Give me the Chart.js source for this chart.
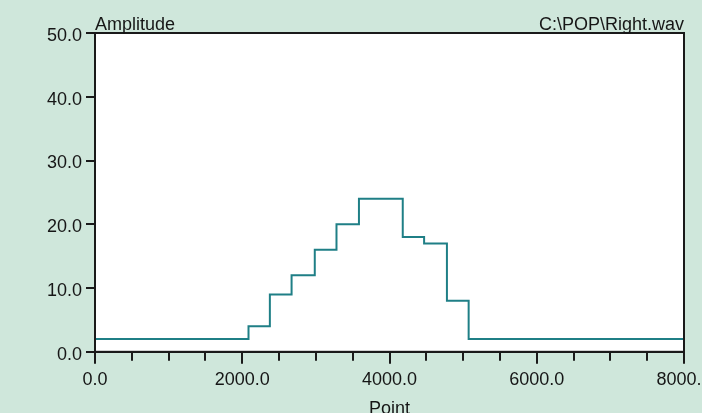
<!DOCTYPE html>
<html>
<head>
<meta charset="utf-8">
<script src="https://cdn.jsdelivr.net/npm/chart.js@4.4.1/dist/chart.umd.min.js"></script>
<style>
  html, body { margin: 0; padding: 0; background: #cfe7db; overflow: hidden; }
  #wrap { position: relative; width: 702px; height: 413px; overflow: hidden; background: #cfe7db; }
  #wrap canvas { position: absolute; left: 0; top: 0; }
</style>
</head>
<body>
<div id="wrap"><canvas id="chart" width="740" height="420"></canvas></div>
<script>
// Signal amplitude per sample point (step trace)
const stepPoints = [0, 2085, 2375, 2670, 2985, 3280, 3585, 4180, 4470, 4780, 5075, 8000];
const amplitudes = [2, 4, 9, 12, 16, 20, 24, 18, 17, 8, 2, 2];

const yTickValues = [0, 10, 20, 30, 40, 50];
const xLabelValues = [0, 2000, 4000, 6000, 8000];
const yAxisTitle = 'Amplitude';
const fileName = 'C:\\POP\\Right.wav';
const xAxisTitle = 'Point';

const FONT = { family: '"Liberation Sans", Arial, sans-serif', size: 18 };
const INK = '#161616';
const FRAME = '#1a1a1a';

// White plot panel with a dark frame, longer major ticks, and the two captions above it
const framePlugin = {
  id: 'frame',
  beforeDraw(chart) {
    const { ctx, chartArea: a } = chart;
    ctx.save();
    ctx.fillStyle = '#ffffff';
    ctx.fillRect(a.left, a.top, a.right - a.left, a.bottom - a.top);
    ctx.restore();
  },
  afterDraw(chart) {
    const { ctx, chartArea: a } = chart;
    const xs = chart.scales.x;
    ctx.save();
    ctx.strokeStyle = FRAME;
    ctx.lineWidth = 2;
    ctx.strokeRect(a.left, a.top, a.right - a.left, a.bottom - a.top);
    ctx.beginPath();
    xLabelValues.forEach(v => {
      const px = Math.round(xs.getPixelForValue(v));
      ctx.moveTo(px, a.bottom + 8);
      ctx.lineTo(px, a.bottom + 12);
    });
    ctx.stroke();
    ctx.fillStyle = INK;
    ctx.font = `${FONT.size}px ${FONT.family}`;
    ctx.textBaseline = 'alphabetic';
    ctx.textAlign = 'left';
    ctx.fillText(yAxisTitle, a.left, a.top - 3);
    ctx.textAlign = 'right';
    ctx.fillText(fileName, a.right, a.top - 3);
    ctx.restore();
  }
};

new Chart(document.getElementById('chart'), {
  type: 'line',
  data: {
    datasets: [{
      data: stepPoints.map((x, i) => ({ x, y: amplitudes[i] })),
      stepped: 'before',
      borderColor: '#1f7f86',
      borderWidth: 2,
      pointRadius: 0,
      fill: false
    }]
  },
  options: {
    responsive: false,
    animation: false,
    layout: { padding: { top: 33, left: 0, right: 56, bottom: 0 } },
    plugins: { legend: { display: false }, tooltip: { enabled: false } },
    scales: {
      x: {
        type: 'linear',
        min: 0,
        max: 8000,
        border: { display: true, color: FRAME, width: 2 },
        grid: { drawOnChartArea: false, color: FRAME, lineWidth: 2, tickLength: 9 },
        ticks: {
          stepSize: 500,
          autoSkip: false,
          maxRotation: 0,
          padding: 8,
          color: INK,
          font: FONT,
          callback: v => xLabelValues.includes(v) ? v.toFixed(1) : ''
        },
        title: { display: true, text: xAxisTitle, color: INK, font: FONT, padding: { top: 0, bottom: 0 } }
      },
      y: {
        min: 0,
        max: 50,
        afterFit(scale) { scale.width = 95; },
        afterBuildTicks(scale) { scale.ticks = yTickValues.map(v => ({ value: v })); },
        border: { display: true, color: FRAME, width: 2 },
        grid: { drawOnChartArea: false, color: FRAME, lineWidth: 2, tickLength: 9 },
        ticks: {
          padding: 4,
          labelOffset: 3,
          color: INK,
          font: FONT,
          callback: v => v.toFixed(1)
        }
      }
    }
  },
  plugins: [framePlugin]
});
</script>
</body>
</html>
